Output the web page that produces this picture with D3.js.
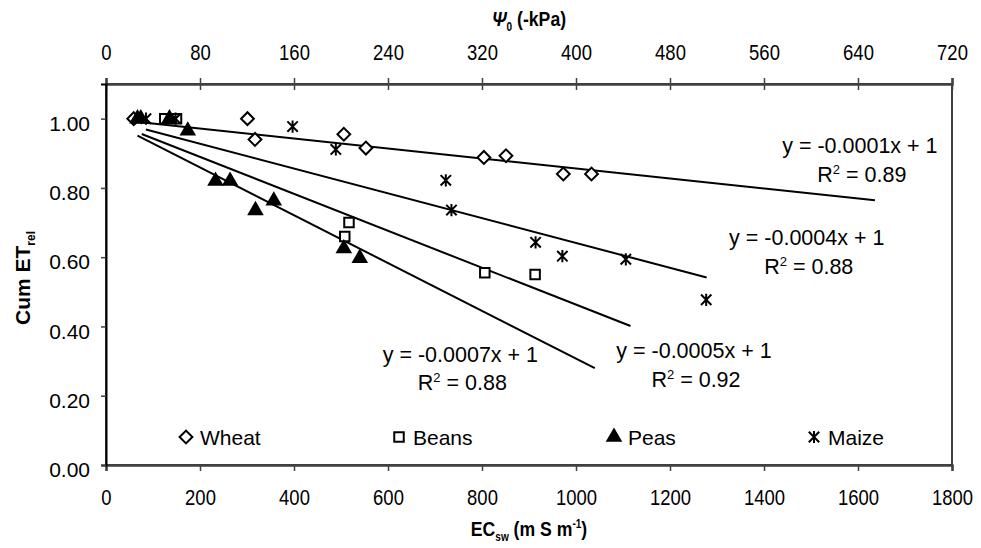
<!DOCTYPE html>
<html>
<head>
<meta charset="utf-8">
<script src="https://cdn.jsdelivr.net/npm/d3@7/dist/d3.min.js"></script>
<style>
  body { margin: 0; background: #fff; }
  svg { display: block; }
  text { font-family: "Liberation Sans", Arial, sans-serif; fill: #000; }
</style>
</head>
<body>
<svg id="chart" width="981" height="548"></svg>
<script>
// --- data ---
var series = ['Wheat', 'Beans', 'Peas', 'Maize'];

var wheatX = [59, 301, 317, 506, 553, 804, 851, 973, 1033];
var wheatY = [1.00, 1.00, 0.94, 0.955, 0.915, 0.888, 0.893, 0.84, 0.84];

var beansX = [125, 150, 508, 517, 806, 913];
var beansY = [1.00, 1.00, 0.66, 0.70, 0.555, 0.55];

var peasX = [67, 74, 135, 174, 233, 264, 318, 357, 506, 540];
var peasY = [1.00, 1.00, 1.00, 0.965, 0.82, 0.82, 0.735, 0.763, 0.625, 0.597];

var maizeX = [85, 148, 397, 489, 723, 735, 914, 971, 1106, 1277];
var maizeY = [1.00, 1.00, 0.977, 0.911, 0.822, 0.736, 0.643, 0.603, 0.594, 0.477];

// fitted trend lines (slope, intercept, x range) as drawn in the picture
var trendSlope = [-0.000144, -0.000533, -0.00069, -0.000358];
var trendIntercept = [1.0, 0.996, 0.997, 0.999];
var trendStart = [59, 76, 67, 85];
var trendEnd = [1636, 1116, 1040, 1278];
var trendEquation = ['y = -0.0001x + 1', 'y = -0.0005x + 1', 'y = -0.0007x + 1', 'y = -0.0004x + 1'];
var trendR2 = ['0.89', '0.92', '0.88', '0.88'];

var xTicks = [0, 200, 400, 600, 800, 1000, 1200, 1400, 1600, 1800];
var xTopTicks = [0, 80, 160, 240, 320, 400, 480, 560, 640, 720];
var yTicks = [0, 0.2, 0.4, 0.6, 0.8, 1.0];

// --- layout ---
var mLeft = 106, mRight = 952, mTop = 84, mBottom = 465;
var narrow = 0.84; // horizontal squeeze for the condensed axis texts
var labelPos = [[1604, 0.90], [1251, 0.308], [754, 0.298], [1491, 0.635]]; // data units
var legendX = [186, 399, 614, 814], legendY = 437;

var svg = d3.select('#chart');

var x = d3.scaleLinear().domain([0, 1800]).range([mLeft, mRight]),
    xTop = d3.scaleLinear().domain([0, 720]).range([mLeft, mRight]),
    y = d3.scaleLinear().domain([0, 1.1]).range([mBottom, mTop]);

// plot frame
svg.append('rect')
   .attr('x', mLeft).attr('y', mTop)
   .attr('width', mRight - mLeft).attr('height', mBottom - mTop)
   .attr('fill', 'none').attr('stroke', '#000').attr('stroke-width', 1.5);

// bottom axis
var gx = svg.append('g')
    .attr('transform', 'translate(0,' + mBottom + ')')
    .call(d3.axisBottom(x).tickValues(xTicks).tickSize(6).tickPadding(18).tickFormat(d3.format('d')));
gx.select('.domain').attr('stroke', '#404040').attr('stroke-width', 2.5);
gx.selectAll('.tick line').attr('stroke', '#404040').attr('stroke-width', 1.5);
gx.selectAll('.tick text').style('font-size', '22px').attr('transform', 'scale(' + narrow + ',1)');

// top axis (ticks cross the line)
var gt = svg.append('g')
    .attr('transform', 'translate(0,' + mTop + ')')
    .call(d3.axisTop(xTop).tickValues(xTopTicks).tickSize(6).tickPadding(18).tickFormat(d3.format('d')));
gt.select('.domain').attr('stroke', '#404040').attr('stroke-width', 2.5);
gt.selectAll('.tick line').attr('y1', 6).attr('stroke', '#404040').attr('stroke-width', 1.5);
gt.selectAll('.tick text').style('font-size', '22px').attr('transform', 'scale(' + narrow + ',1)');

// left axis
var gy = svg.append('g')
    .attr('transform', 'translate(' + mLeft + ',0)')
    .call(d3.axisLeft(y).tickValues(yTicks).tickSize(5).tickPadding(11).tickFormat(d3.format('.2f')));
gy.select('.domain').attr('stroke', '#000').attr('stroke-width', 2);
gy.selectAll('.tick line').attr('stroke', '#404040').attr('stroke-width', 1.5);
gy.selectAll('.tick text').style('font-size', '21px').attr('dy', '0.55em');

// axis titles
var tTop = svg.append('text')
    .attr('transform', 'translate(' + (mLeft + mRight) / 2 + ',26) scale(' + narrow + ',1)')
    .attr('text-anchor', 'middle').style('font-size', '21px').style('font-weight', 'bold');
tTop.append('tspan').style('font-style', 'italic').text('\u03A8');
tTop.append('tspan').attr('dy', 5).style('font-size', '12px').text('0');
tTop.append('tspan').attr('dy', -5).text(' (-kPa)');

var tBot = svg.append('text')
    .attr('transform', 'translate(' + (mLeft + mRight) / 2 + ',536) scale(' + narrow + ',1)')
    .attr('text-anchor', 'middle').style('font-size', '21px').style('font-weight', 'bold');
tBot.append('tspan').text('EC');
tBot.append('tspan').attr('dy', 5).style('font-size', '12px').text('sw');
tBot.append('tspan').attr('dy', -5).text(' (m S m');
tBot.append('tspan').attr('dy', -8).style('font-size', '12px').text('-1');
tBot.append('tspan').attr('dy', 8).text(')');

var tLeft = svg.append('text')
    .attr('transform', 'translate(30,278) rotate(-90)')
    .attr('text-anchor', 'middle').style('font-size', '21px').style('font-weight', 'bold');
tLeft.append('tspan').text('Cum ET');
tLeft.append('tspan').attr('dy', 5).style('font-size', '12px').text('rel');

// trend lines
var line = d3.line().x(function (d) { return x(d[0]); }).y(function (d) { return y(d[1]); });
series.forEach(function (name, i) {
    var pts = [trendStart[i], trendEnd[i]].map(function (v) {
        return [v, trendIntercept[i] + trendSlope[i] * v];
    });
    svg.append('path').attr('d', line(pts))
       .attr('fill', 'none').attr('stroke', '#000').attr('stroke-width', 2);
});

// markers
var asterisk = {
    draw: function (ctx, size) {
        var r = Math.sqrt(size) / 2, d = r * 0.85;
        ctx.moveTo(0, -r); ctx.lineTo(0, r);
        ctx.moveTo(-d, -d); ctx.lineTo(d, d);
        ctx.moveTo(-d, d); ctx.lineTo(d, -d);
    }
};
var markers = [
    { type: d3.symbolSquare, size: 82, rotate: 45, fill: '#fff' },
    { type: d3.symbolSquare, size: 90, rotate: 0, fill: '#fff' },
    { type: d3.symbolTriangle, size: 75, rotate: 0, fill: '#000' },
    { type: asterisk, size: 150, rotate: 0, fill: 'none' }
];
var xs = [wheatX, beansX, peasX, maizeX], ys = [wheatY, beansY, peasY, maizeY];

series.forEach(function (name, i) {
    var m = markers[i],
        sym = d3.symbol().type(m.type).size(m.size);
    svg.append('g').selectAll('path')
       .data(d3.zip(xs[i], ys[i]))
       .enter().append('path')
       .attr('d', sym)
       .attr('transform', function (d) {
           return 'translate(' + x(d[0]) + ',' + y(d[1]) + ') rotate(' + m.rotate + ')';
       })
       .attr('fill', m.fill).attr('stroke', '#000').attr('stroke-width', 2);
});

// equation labels
series.forEach(function (name, i) {
    var cx = x(labelPos[i][0]), cy = y(labelPos[i][1]);
    svg.append('text').attr('x', cx).attr('y', cy)
       .attr('text-anchor', 'middle').style('font-size', '21.5px')
       .text(trendEquation[i]);
    var r2 = svg.append('text').attr('x', cx + 2).attr('y', cy + 28.5)
       .attr('text-anchor', 'middle').style('font-size', '21.5px');
    r2.append('tspan').text('R');
    r2.append('tspan').attr('dy', -8).style('font-size', '13px').text('2');
    r2.append('tspan').attr('dy', 8).text(' = ' + trendR2[i]);
});

// legend
series.forEach(function (name, i) {
    var m = markers[i],
        sym = d3.symbol().type(m.type).size(m.size);
    svg.append('path').attr('d', sym)
       .attr('transform', 'translate(' + legendX[i] + ',' + legendY + ') rotate(' + m.rotate + ')')
       .attr('fill', m.fill).attr('stroke', '#000').attr('stroke-width', 2);
    svg.append('text').attr('x', legendX[i] + 14).attr('y', legendY + 7.5)
       .style('font-size', '21px').text(name);
});
</script>
</body>
</html>
